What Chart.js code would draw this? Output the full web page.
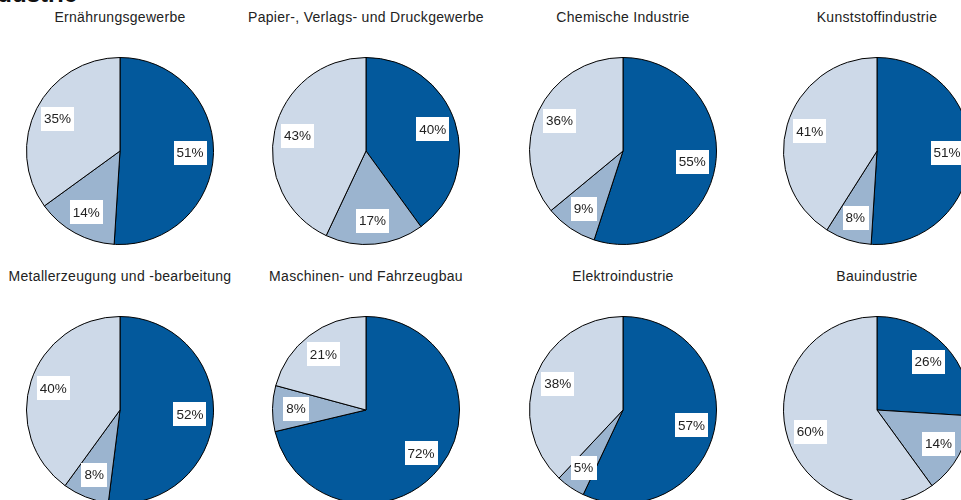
<!DOCTYPE html>
<html>
<head>
<meta charset="utf-8">
<script src="https://cdn.jsdelivr.net/npm/chart.js@4.4.1/dist/chart.umd.min.js"></script>
<style>
  body { margin: 0; background: #fff; overflow: hidden; }
  #lienzo { position: relative; width: 961px; height: 500px; overflow: hidden; font-family: "Liberation Sans", Arial, sans-serif; }
  .titel { position: absolute; font-size: 14px; letter-spacing: 0.3px; color: #222; white-space: nowrap; transform: translate(-50%, -50%); }
  .haupt { position: absolute; left: -24px; top: -18px; font-size: 24px; line-height: 24px; font-weight: bold; color: #111; white-space: nowrap; }
  canvas { position: absolute; }
</style>
</head>
<body>
<div id="lienzo">
  <div class="haupt">Industrie</div>
</div>
<script>
const branchen = [
  'Ernährungsgewerbe',
  'Papier-, Verlags- und Druckgewerbe',
  'Chemische Industrie',
  'Kunststoffindustrie',
  'Metallerzeugung und -bearbeitung',
  'Maschinen- und Fahrzeugbau',
  'Elektroindustrie',
  'Bauindustrie'
]
const anteil1 = [51, 40, 55, 51, 52, 72, 57, 26]
const anteil2 = [14, 17, 9, 8, 8, 8, 5, 14]
const anteil3 = [35, 43, 36, 41, 40, 21, 38, 60]
const farben = ['#03599c', '#9bb4cf', '#cdd9e8']

const spalten = [120, 366, 623, 877]
const zeilen = [151, 410]
const titelY = [17, 276]
const groesse = 188

const lienzo = document.getElementById('lienzo')

// weisse Kaesten mit Prozentwert
const etiketten = {
  id: 'etiketten',
  afterDatasetsDraw(chart) {
    const ctx = chart.ctx
    const meta = chart.getDatasetMeta(0)
    const werte = chart.data.datasets[0].data
    ctx.save()
    ctx.font = '13.5px "Liberation Sans", Arial, sans-serif'
    ctx.textAlign = 'center'
    ctx.textBaseline = 'middle'
    meta.data.forEach((arc, i) => {
      const p = arc.getProps(['x', 'y', 'startAngle', 'endAngle', 'outerRadius'])
      const mitte = (p.startAngle + p.endAngle) / 2
      const px = p.x + Math.cos(mitte) * p.outerRadius * 0.75
      const py = p.y + Math.sin(mitte) * p.outerRadius * 0.75
      const text = werte[i] + '%'
      const w = ctx.measureText(text).width + 6
      const h = 24
      ctx.fillStyle = '#fff'
      ctx.fillRect(Math.round(px - w / 2), Math.round(py - h / 2), Math.round(w), h)
      ctx.fillStyle = '#222'
      ctx.fillText(text, px, py + 0.5)
    })
    ctx.restore()
  }
}

for (let i = 0; i < branchen.length; i++) {
  const cx = spalten[i % 4]
  const cy = zeilen[Math.floor(i / 4)]

  const titel = document.createElement('div')
  titel.className = 'titel'
  titel.style.left = cx + 'px'
  titel.style.top = titelY[Math.floor(i / 4)] + 'px'
  titel.innerText = branchen[i]
  lienzo.appendChild(titel)

  const c = document.createElement('canvas')
  c.width = groesse
  c.height = groesse
  c.style.left = (cx - groesse / 2) + 'px'
  c.style.top = (cy - groesse / 2) + 'px'
  lienzo.appendChild(c)

  new Chart(c, {
    type: 'pie',
    data: {
      labels: ['Anteil 1', 'Anteil 2', 'Anteil 3'],
      datasets: [{
        data: [anteil1[i], anteil2[i], anteil3[i]],
        backgroundColor: farben,
        borderColor: '#000',
        borderWidth: 1
      }]
    },
    options: {
      responsive: false,
      animation: false,
      devicePixelRatio: 1,
      layout: { padding: 0 },
      plugins: {
        legend: { display: false },
        tooltip: { enabled: false },
        title: { display: false }
      }
    },
    plugins: [etiketten]
  })
}
</script>
</body>
</html>
